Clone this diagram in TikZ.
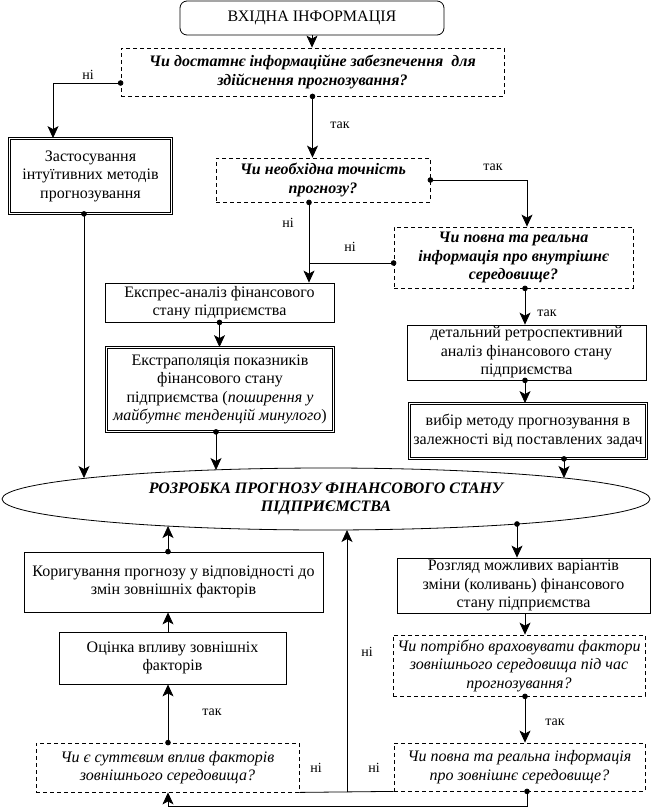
\documentclass[tikz,border=0pt]{standalone}
\usepackage{fontspec}
\setmainfont{Liberation Serif}
\usetikzlibrary{arrows.meta,shapes.geometric,calc}
\begin{document}
\begin{tikzpicture}[x=1pt,y=-1pt,
  every node/.style={font=\fontsize{16}{18.5}\selectfont},
  box/.style={draw, line width=0.8pt, align=center, inner sep=1pt},
  dbox/.style={box, double, double distance=1.6pt},
  qbox/.style={box, dash pattern=on 4pt off 3pt},
  bi/.style={font=\fontsize{16}{18.5}\selectfont\bfseries\itshape},
  it/.style={font=\fontsize{16}{18.5}\selectfont\itshape},
  lbl/.style={font=\fontsize{14}{16}\selectfont, inner sep=0pt},
  ln/.style={line width=0.8pt},
  arr/.style={ln, -{Stealth[length=12pt,width=11pt,inset=3pt]}},
  darr/.style={ln, {Circle[length=5.5pt]}-{Stealth[length=12pt,width=11pt,inset=3pt]}, shorten <=-2.75pt},
  dln/.style={ln, {Circle[length=5.5pt]}-, shorten <=-2.75pt},
]
\useasboundingbox[fill=white] (0,0) rectangle (652,809);

% ---------- nodes ----------
\node[box, rounded corners=7pt, minimum width=264pt, minimum height=34pt] (top) at (312,18) {ВХІДНА ІНФОРМАЦІЯ};
\node[qbox, bi, minimum width=383pt, minimum height=48pt] (q1) at (312.5,72) {Чи достатнє інформаційне забезпечення~ для\\здійснення прогнозування?};
\node[dbox, minimum width=162pt, minimum height=75pt] (L1) at (90.5,176) {Застосування\\інтуїтивних методів\\прогнозування};
\node[qbox, bi, minimum width=214pt, minimum height=44pt] (q2) at (323,180) {Чи необхідна точність\\прогнозу?};
\node[qbox, bi, minimum width=239pt, minimum height=61pt] (q3) at (513.5,257.5) {Чи повна та реальна\\інформація про внутрішнє\\середовище?};
\node[box, minimum width=229pt, minimum height=39pt] (E1) at (219.5,302.5) {Експрес-аналіз фінансового\\стану підприємства};
\node[dbox, minimum width=227pt, minimum height=84pt] (E2) at (220,389.5) {Екстраполяція показників\\фінансового стану\\підприємства (\textit{поширення у}\\\textit{майбутнє тенденцій минулого})};
\node[box, minimum width=239pt, minimum height=55pt] (D1) at (526.5,352.5) {детальний ретроспективний\\аналіз фінансового стану\\підприємства};
\node[dbox, minimum width=237pt, minimum height=55pt] (D2) at (528,431) {вибір методу прогнозування в\\залежності від поставлених задач};
\node[ellipse, draw, line width=0.8pt, bi, align=center, inner sep=0pt, minimum width=648pt, minimum height=62pt] (E) at (326,499) {РОЗРОБКА ПРОГНОЗУ ФІНАНСОВОГО СТАНУ\\ПІДПРИЄМСТВА};
\node[box, minimum width=299pt, minimum height=60pt] (K) at (173.5,582) {Коригування прогнозу у відповідності до\\змін зовнішніх факторів};
\node[box, minimum width=227pt, minimum height=52pt] (O) at (172.5,658) {Оцінка впливу зовнішніх\\факторів};
\node[qbox, it, minimum width=263pt, minimum height=49pt] (q5) at (167.5,767.5) {Чи є суттєвим вплив факторів\\зовнішнього середовища?};
\node[box, minimum width=253pt, minimum height=55pt] (R) at (523.5,585.5) {Розгляд можливих варіантів\\зміни (коливань) фінансового\\стану підприємства};
\node[qbox, it, minimum width=252pt, minimum height=61pt] (q4) at (519,665.5) {Чи потрібно враховувати фактори\\зовнішнього середовища під час\\прогнозування?};
\node[qbox, it, minimum width=251pt, minimum height=48pt] (q6) at (519.5,767) {Чи повна та реальна інформація\\про зовнішнє середовище?};

% ---------- helper coordinates ----------
\coordinate (c53) at (53,83);
\coordinate (c309) at (309,263);
\coordinate (c527) at (527,177);
\coordinate (c525) at (525,0);
\coordinate (e84) at (84,478);
\coordinate (e216) at (216,470);
\coordinate (e564) at (564,478);
\coordinate (e168) at (168,526);
\coordinate (e517) at (517,524);
\coordinate (e347) at (347,530);

% ---------- connectors ----------
\draw[arr] (top.south) -- (top.south |- q1.north);
\draw[darr] (q1.south) -- (q1.south |- q2.north);
\draw[darr] (q1.west |- c53) -| (L1.north -| c53);
\draw[darr] (L1.south -| e84) -- (e84);
\draw[darr] (q2.east) -| (q3.north -| c527);
\draw[darr] (q2.south -| c309) -- (E1.north -| c309);
\draw[dln] (q3.west |- c309) -- (c309);
\draw[darr] (q3.south -| c525) -- (D1.north -| c525);
\draw[darr] (D1.south -| c525) -- (D2.north -| c525);
\draw[darr] (D2.south -| e564) -- (e564);
\draw[darr] (E1.south) -- (E1.south |- E2.north);
\draw[darr] (E2.south -| e216) -- (e216);

\draw[darr] (K.north -| e168) -- (e168);
\draw[arr] (O.north -| e168) -- (K.south -| e168);
\draw[darr] (q5.north -| e168) -- (O.south -| e168);
\draw[darr] (e517) -- (R.north -| e517);
\draw[arr] (R.south -| c525) -- (q4.north -| c525);
\draw[darr] (q4.south -| c525) -- (q6.north -| c525);
\draw[ln] (q5.south east) -- (q6.south west);
\draw[arr] (e347 |- q5.south east) -- (e347);
\draw[darr] (q6.south -| c527) -- ++(0,15) -| (q5.south -| e168);

% ---------- labels ----------
\node[lbl] (l1) at (88,75) {ні};
\node[lbl] (l2) at (340,125) {так};
\node[lbl] (l3) at (493,167) {так};
\node[lbl] (l4) at (288,223) {ні};
\node[lbl] (l5) at (350,247) {ні};
\node[lbl] (l6) at (547,313) {так};
\node[lbl] (l7) at (212,712) {так};
\node[lbl] (l8) at (367,652) {ні};
\node[lbl] (l9) at (316,768) {ні};
\node[lbl] (l10) at (374,768) {ні};
\node[lbl] (l11) at (555,722) {так};
\end{tikzpicture}
\end{document}
